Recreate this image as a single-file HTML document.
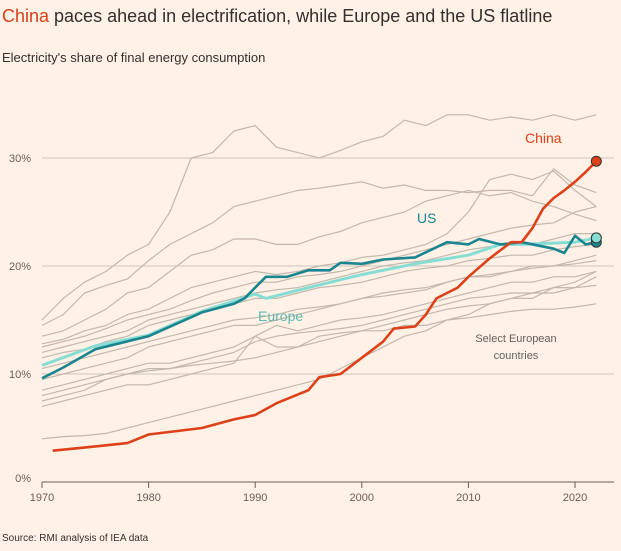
<!DOCTYPE html>
<html><head><meta charset="utf-8"><style>
body{margin:0;background:#fff1e5;font-family:"Liberation Sans",sans-serif;}
#wrap{position:relative;width:621px;height:551px;overflow:hidden;background:#fff1e5}
.t{position:absolute;white-space:nowrap}
</style></head><body>
<div id="wrap">
<div class="t" style="left:2px;top:6px;font-size:18px;color:#33302e"><span style="color:#d9401c">China</span> paces ahead in electrification, while Europe and the US flatline</div>
<div class="t" style="left:2px;top:50px;font-size:13px;color:#33302e">Electricity's share of final energy consumption</div>
<div class="t" style="left:2px;top:533px;font-size:10px;color:#33302e">Source: RMI analysis of IEA data</div>
<svg id="svg" width="621" height="551" style="position:absolute;left:0;top:0"></svg>
</div>
<script>
const yTicks=[0,10,20,30];
const xTicks=[1970,1980,1990,2000,2010,2020];
const chinaYears=[1971,1975,1978,1980,1985,1988,1990,1992,1995,1996,1998,2000,2002,2003,2005,2006,2007,2009,2010,2012,2014,2015,2016,2017,2018,2019,2020,2021,2022];
const chinaVals=[2.9,3.3,3.6,4.4,5.0,5.8,6.2,7.3,8.5,9.7,10.0,11.5,13.0,14.2,14.4,15.5,17.0,18.0,19.0,20.7,22.2,22.2,23.5,25.3,26.3,27.0,27.8,28.7,29.7];
const usYears=[1970,1972,1975,1980,1985,1988,1989,1990,1991,1993,1995,1997,1998,2000,2002,2005,2008,2010,2011,2013,2015,2018,2019,2020,2021,2022];
const usVals=[9.6,10.6,12.3,13.5,15.7,16.5,17.0,18.0,19.0,19.0,19.6,19.6,20.3,20.2,20.6,20.8,22.2,22.0,22.5,22.0,22.2,21.6,21.2,22.8,22.0,22.2];
const euYears=[1970,1975,1980,1985,1990,1991,1995,2000,2005,2010,2013,2015,2020,2022];
const euVals=[10.8,12.6,13.6,15.8,17.4,17.0,18.0,19.2,20.2,21.0,22.0,22.0,22.2,22.6];
const greyYears=[1970,1972,1974,1976,1978,1980,1982,1984,1986,1988,1990,1992,1994,1996,1998,2000,2002,2004,2006,2008,2010,2012,2014,2016,2018,2020,2022];
const greyA=[15.0,17,18.5,19.5,21,22,25,30,30.5,32.5,33,31,30.5,30,30.7,31.5,32,33.5,33,34,34,33.5,33.8,33.5,34,33.5,34];
const greyB=[14.5,15.5,17.5,18.2,18.8,20.5,22,23,24,25.5,26,26.5,27,27.2,27.5,27.8,27.2,27.5,27,27,26.8,27,27,26.5,29,27.5,26.8];
const greyC=[13.5,14,15,16,17.5,18,19.5,21,21.5,22.5,22.5,22,22,22.7,23.2,24,24.5,25,26,26.5,27,26.5,26.8,26,25.5,24.8,24.2];
const greyD=[12.8,13.2,14,14.5,15.5,16,17,18,18.5,19,19.5,19.2,19.5,20,20.3,20.8,21,21.5,22,23,25,28,28.5,28,28.8,27,25.5];
const greyE=[12.5,13,13.5,14.2,15,15.5,16,16.8,17.5,18,18.5,18.5,19,19.2,19.5,20,20.5,21,21.5,22,22.5,23,23.5,23.8,24,25,25.5];
const greyF=[12,12.5,13,13.5,14,15,15.5,16,16.5,17,17.5,17.8,18,18.5,19,19.5,20,20.3,20.5,21,21.5,21.8,22,22,22.5,23,23];
const greyG=[11.5,12,12.3,13,13.5,14.5,15,15.5,16,16.5,17,17,17.5,18,18.2,18.5,19,19.5,19.8,20,20.5,20.7,21,21,21.5,21.8,22];
const greyH=[10.5,11,11.5,12,12.5,13,13.5,14,14.5,15,15.2,15.5,16,16.2,16.5,17,17.5,17.8,18,18.5,19,19.2,19.5,19.8,20,20.2,20.5];
const greyI=[9.5,10,10.5,11,11.5,12.5,13,13.5,14,14.5,14.5,15,15.5,16,16.5,17,17.2,17.5,17.8,18.5,19,19,19.5,20,20,20.5,21];
const greyJ=[8.5,9,9.5,10,10.5,11,11,11.5,12,12.5,13.5,14.5,14,14.5,15,15.2,15.5,16,16.5,17,17.5,18,18.5,18.5,19,19,19.5];
const greyK=[8,8.5,9,9.5,10,10.3,10.5,11,11.5,12,13,13.5,13.8,14,14.2,14.5,15,15.5,16,16.5,17,17.2,17.5,17.5,18,18,18.2];
const greyL=[7.5,8,8.5,9.5,10,10.5,10.5,10.8,11,11.2,11.5,12,12.5,13.5,13.8,14,14.5,15,15.5,16,16.3,16.5,17,17.5,17.5,18,19];
const greyM=[7,7.5,8,8.5,9,9,9.5,10,10.5,11,13.5,12.5,12.5,13,13.5,14,14,14.5,14.5,15,15.2,15.5,15.8,16,16,16.2,16.5];
const greyN=[4,4.2,4.3,4.5,5,5.5,6,6.5,7,7.5,8,8.5,9,9.5,10.5,11.5,12.5,13.5,14,15,15.5,16.5,17,17,18,18.5,19.5];
const greySeries=[greyA,greyB,greyC,greyD,greyE,greyF,greyG,greyH,greyI,greyJ,greyK,greyL,greyM,greyN];

const NS="http://www.w3.org/2000/svg";
const svg=document.getElementById('svg');
const x=y=>42+(y-1970)*10.66;
const yS=v=>482-v*10.8;
function mk(t,a){const e=document.createElementNS(NS,t);for(const k in a)e.setAttribute(k,a[k]);svg.appendChild(e);return e;}
yTicks.forEach(v=>{
  const l=mk('line',{x1:42,x2:614,y1:yS(v),y2:yS(v),stroke:v===0?'#66605c':'#cec5bc','stroke-width':1});
  
  
  const t=mk('text',{x:31,y:yS(v)+(v===0?0:4),'font-size':11,fill:'#66605c','text-anchor':'end','font-family':'Liberation Sans, sans-serif'});
  t.textContent=v+'%';
  
  
});
xTicks.forEach(v=>{
  const l=mk('line',{x1:x(v),x2:x(v),y1:482,y2:488,stroke:'#66605c'});
  
  
  const t=mk('text',{x:x(v),y:501,'font-size':11,fill:'#66605c','text-anchor':'middle','font-family':'Liberation Sans, sans-serif'});
  t.textContent=v;
  
  
});
function line(yrs,vals,col,w,name){
  const d=yrs.map((yr,i)=>(i?'L':'M')+x(yr).toFixed(1)+','+yS(vals[i]).toFixed(1)).join('');
  const p=mk('path',{d:d,fill:'none',stroke:col,'stroke-width':w,'stroke-linejoin':'round'});
  
  
}
greySeries.forEach((s,i)=>line(greyYears,s,'#c2b8ae',1.2,'europe-country-line-'+(i+1)));
line(euYears,euVals,'#86ddd4',3,'europe-line');
line(usYears,usVals,'#1a8590',2.6,'us-line');
line(chinaYears,chinaVals,'#dc4119',2.6,'china-line');
function dot(yrs,vals,col,name){
  const c=mk('circle',{cx:x(yrs[yrs.length-1]),cy:yS(vals[vals.length-1]),r:5,fill:col,stroke:'#33302e','stroke-width':1});
  
  
}
dot(usYears,usVals,'#1a8590','us-end-dot');
dot(euYears,euVals,'#86ddd4','europe-end-dot');
dot(chinaYears,chinaVals,'#dc4119','china-end-dot');
function lab(tx,xx,yy,col,fs,name,anchor){
  const t=mk('text',{x:xx,y:yy,'font-size':fs,fill:col,'font-family':'Liberation Sans, sans-serif','text-anchor':anchor||'start'});
  t.textContent=tx;
  
  
}
lab('China',525,143,'#dc4119',14,'china-label');
lab('US',417,223,'#1a8590',14,'us-label');
lab('Europe',258,321,'#5fb8ae',14,'europe-label');
lab('Select European',516,342,'#66605c',11,'europe-countries-label','middle');
lab('countries',516,359,'#66605c',11,'europe-countries-label-2','middle');
</script>
</body></html>
